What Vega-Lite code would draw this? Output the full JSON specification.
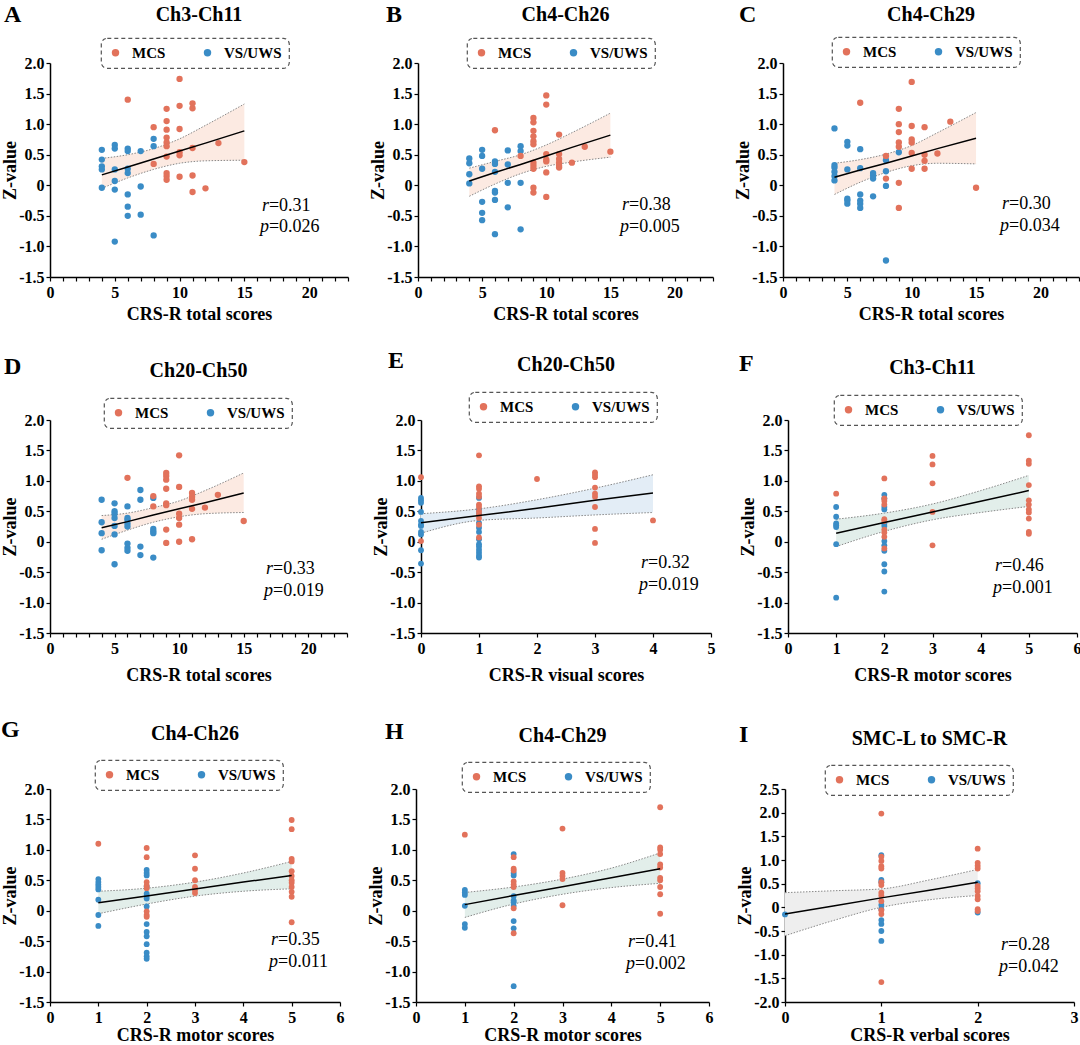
{
"$schema": "https://vega.github.io/schema/vega-lite/v6.json",
"padding": {"top": 2, "left": 0, "right": 0, "bottom": 0},
"config": {
 "view": {"stroke": null},
 "font": "Liberation Serif",
 "axis": {"domainColor":"#000","domainWidth":1.5,"tickColor":"#000","tickWidth":1.2,"tickSize":4,"labelFont":"Liberation Serif","labelFontSize":16,"labelFontWeight":"bold","labelColor":"#000","titleFont":"Liberation Serif","titleFontSize":18,"titleFontWeight":"bold","titleColor":"#000","grid":false,"labelOverlap":false,"labelFlush":false},
 "axisX": {"labelPadding":3,"titlePadding":5,"labelAngle":0},
 "axisY": {"labelPadding":2,"titleX":-31},
 "legend": {"orient":"none","direction":"horizontal","labelFont":"Liberation Serif","labelFontSize":15,"labelFontWeight":"bold","labelColor":"#000","symbolType":"circle","symbolSize":55,"symbolStrokeWidth":0,"labelOffset":9,"columnPadding":34,"padding":7,"strokeColor":"#555","strokeDash":[4,3],"strokeWidth":1.2,"cornerRadius":6},
 "title": {"font":"Liberation Serif","fontSize":20,"fontWeight":"bold","color":"#000","anchor":"middle","offset":-26},
 "text": {"font":"Liberation Serif","color":"#000"}
},
"datasets": {
 "notes": [
  {"p":"A","letter":"A","r":"=0.31","pv":"=0.026"},
  {"p":"B","letter":"B","r":"=0.38","pv":"=0.005"},
  {"p":"C","letter":"C","r":"=0.30","pv":"=0.034"},
  {"p":"D","letter":"D","r":"=0.33","pv":"=0.019"},
  {"p":"E","letter":"E","r":"=0.32","pv":"=0.019"},
  {"p":"F","letter":"F","r":"=0.46","pv":"=0.001"},
  {"p":"G","letter":"G","r":"=0.35","pv":"=0.011"},
  {"p":"H","letter":"H","r":"=0.41","pv":"=0.002"},
  {"p":"I","letter":"I","r":"=0.28","pv":"=0.042"}
 ],
 "bands": [
  {"p":"A","x":4,"lo":-0.05,"hi":0.44,"fit":0.17},{"p":"A","x":6,"lo":0.12,"hi":0.50,"fit":0.30},{"p":"A","x":8,"lo":0.26,"hi":0.60,"fit":0.43},{"p":"A","x":10,"lo":0.36,"hi":0.76,"fit":0.56},{"p":"A","x":12,"lo":0.40,"hi":0.98,"fit":0.69},{"p":"A","x":15,"lo":0.41,"hi":1.33,"fit":0.89},
  {"p":"B","x":4,"lo":-0.18,"hi":0.28,"fit":0.07},{"p":"B","x":6,"lo":0.02,"hi":0.39,"fit":0.21},{"p":"B","x":8,"lo":0.19,"hi":0.50,"fit":0.34},{"p":"B","x":10,"lo":0.31,"hi":0.66,"fit":0.48},{"p":"B","x":12,"lo":0.38,"hi":0.86,"fit":0.62},{"p":"B","x":15,"lo":0.46,"hi":1.18,"fit":0.82},
  {"p":"C","x":4,"lo":-0.15,"hi":0.36,"fit":0.13},{"p":"C","x":6,"lo":0.05,"hi":0.42,"fit":0.25},{"p":"C","x":8,"lo":0.21,"hi":0.51,"fit":0.36},{"p":"C","x":10,"lo":0.32,"hi":0.65,"fit":0.48},{"p":"C","x":12,"lo":0.36,"hi":0.86,"fit":0.60},{"p":"C","x":15,"lo":0.35,"hi":1.19,"fit":0.77},
  {"p":"D","x":4,"lo":0.04,"hi":0.43,"fit":0.23},{"p":"D","x":6,"lo":0.19,"hi":0.47,"fit":0.33},{"p":"D","x":8,"lo":0.32,"hi":0.56,"fit":0.44},{"p":"D","x":10,"lo":0.41,"hi":0.67,"fit":0.54},{"p":"D","x":12,"lo":0.46,"hi":0.84,"fit":0.64},{"p":"D","x":15,"lo":0.48,"hi":1.13,"fit":0.80},
  {"p":"E","x":0,"lo":0.14,"hi":0.46,"fit":0.31},{"p":"E","x":1,"lo":0.35,"hi":0.54,"fit":0.43},{"p":"E","x":2,"lo":0.39,"hi":0.69,"fit":0.55},{"p":"E","x":3,"lo":0.44,"hi":0.88,"fit":0.68},{"p":"E","x":4,"lo":0.48,"hi":1.10,"fit":0.80},
  {"p":"F","x":1,"lo":-0.08,"hi":0.37,"fit":0.14},{"p":"F","x":2,"lo":0.17,"hi":0.47,"fit":0.315},{"p":"F","x":3,"lo":0.36,"hi":0.62,"fit":0.49},{"p":"F","x":4,"lo":0.48,"hi":0.84,"fit":0.665},{"p":"F","x":5,"lo":0.58,"hi":1.09,"fit":0.84},
  {"p":"G","x":1,"lo":-0.05,"hi":0.32,"fit":0.13},{"p":"G","x":2,"lo":0.11,"hi":0.37,"fit":0.24},{"p":"G","x":3,"lo":0.24,"hi":0.47,"fit":0.355},{"p":"G","x":4,"lo":0.32,"hi":0.62,"fit":0.47},{"p":"G","x":5,"lo":0.36,"hi":0.81,"fit":0.58},
  {"p":"H","x":1,"lo":-0.11,"hi":0.30,"fit":0.10},{"p":"H","x":2,"lo":0.11,"hi":0.39,"fit":0.25},{"p":"H","x":3,"lo":0.27,"hi":0.52,"fit":0.395},{"p":"H","x":4,"lo":0.38,"hi":0.70,"fit":0.54},{"p":"H","x":5,"lo":0.45,"hi":0.95,"fit":0.69},
  {"p":"I","x":0,"lo":-0.60,"hi":0.31,"fit":-0.14},{"p":"I","x":0.5,"lo":-0.28,"hi":0.35,"fit":0.03},{"p":"I","x":1,"lo":0.0,"hi":0.39,"fit":0.20},{"p":"I","x":1.5,"lo":0.16,"hi":0.58,"fit":0.36},{"p":"I","x":2,"lo":0.25,"hi":0.80,"fit":0.53}
 ],
 "pts": [
  {"p":"A","g":"VS/UWS","x":4,"z":0.58},{"p":"A","g":"VS/UWS","x":4,"z":0.42},{"p":"A","g":"VS/UWS","x":4,"z":0.31},{"p":"A","g":"VS/UWS","x":4,"z":0.26},{"p":"A","g":"VS/UWS","x":4,"z":-0.04},
  {"p":"A","g":"VS/UWS","x":5,"z":0.66},{"p":"A","g":"VS/UWS","x":5,"z":0.60},{"p":"A","g":"VS/UWS","x":5,"z":0.26},{"p":"A","g":"VS/UWS","x":5,"z":0.07},{"p":"A","g":"VS/UWS","x":5,"z":-0.07},{"p":"A","g":"VS/UWS","x":5,"z":-0.92},
  {"p":"A","g":"VS/UWS","x":6,"z":0.60},{"p":"A","g":"VS/UWS","x":6,"z":0.56},{"p":"A","g":"VS/UWS","x":6,"z":0.27},{"p":"A","g":"VS/UWS","x":6,"z":0.20},{"p":"A","g":"VS/UWS","x":6,"z":-0.15},{"p":"A","g":"VS/UWS","x":6,"z":-0.35},{"p":"A","g":"VS/UWS","x":6,"z":-0.50},
  {"p":"A","g":"VS/UWS","x":7,"z":0.56},{"p":"A","g":"VS/UWS","x":7,"z":-0.02},{"p":"A","g":"VS/UWS","x":7,"z":-0.48},
  {"p":"A","g":"VS/UWS","x":8,"z":0.76},{"p":"A","g":"VS/UWS","x":8,"z":0.64},{"p":"A","g":"VS/UWS","x":8,"z":-0.82},
  {"p":"A","g":"MCS","x":6,"z":1.40},{"p":"A","g":"MCS","x":8,"z":0.95},{"p":"A","g":"MCS","x":8,"z":0.35},
  {"p":"A","g":"MCS","x":9,"z":1.25},{"p":"A","g":"MCS","x":9,"z":1.05},{"p":"A","g":"MCS","x":9,"z":0.91},{"p":"A","g":"MCS","x":9,"z":0.78},{"p":"A","g":"MCS","x":9,"z":0.70},{"p":"A","g":"MCS","x":9,"z":0.64},{"p":"A","g":"MCS","x":9,"z":0.47},{"p":"A","g":"MCS","x":9,"z":0.20},{"p":"A","g":"MCS","x":9,"z":0.15},{"p":"A","g":"MCS","x":9,"z":0.09},
  {"p":"A","g":"MCS","x":10,"z":1.74},{"p":"A","g":"MCS","x":10,"z":1.30},{"p":"A","g":"MCS","x":10,"z":0.92},{"p":"A","g":"MCS","x":10,"z":0.54},{"p":"A","g":"MCS","x":10,"z":0.49},{"p":"A","g":"MCS","x":10,"z":0.14},
  {"p":"A","g":"MCS","x":11,"z":1.34},{"p":"A","g":"MCS","x":11,"z":1.26},{"p":"A","g":"MCS","x":11,"z":0.61},{"p":"A","g":"MCS","x":11,"z":0.16},{"p":"A","g":"MCS","x":11,"z":-0.11},
  {"p":"A","g":"MCS","x":12,"z":-0.05},{"p":"A","g":"MCS","x":13,"z":0.69},{"p":"A","g":"MCS","x":15,"z":0.38},

  {"p":"B","g":"VS/UWS","x":4,"z":0.44},{"p":"B","g":"VS/UWS","x":4,"z":0.36},{"p":"B","g":"VS/UWS","x":4,"z":0.18},{"p":"B","g":"VS/UWS","x":4,"z":0.03},
  {"p":"B","g":"VS/UWS","x":5,"z":0.58},{"p":"B","g":"VS/UWS","x":5,"z":0.48},{"p":"B","g":"VS/UWS","x":5,"z":0.27},{"p":"B","g":"VS/UWS","x":5,"z":-0.27},{"p":"B","g":"VS/UWS","x":5,"z":-0.45},{"p":"B","g":"VS/UWS","x":5,"z":-0.57},
  {"p":"B","g":"VS/UWS","x":6,"z":0.39},{"p":"B","g":"VS/UWS","x":6,"z":0.35},{"p":"B","g":"VS/UWS","x":6,"z":0.22},{"p":"B","g":"VS/UWS","x":6,"z":-0.09},{"p":"B","g":"VS/UWS","x":6,"z":-0.12},{"p":"B","g":"VS/UWS","x":6,"z":-0.24},{"p":"B","g":"VS/UWS","x":6,"z":-0.80},
  {"p":"B","g":"VS/UWS","x":7,"z":0.57},{"p":"B","g":"VS/UWS","x":7,"z":0.34},{"p":"B","g":"VS/UWS","x":7,"z":0.04},{"p":"B","g":"VS/UWS","x":7,"z":-0.36},
  {"p":"B","g":"VS/UWS","x":8,"z":0.64},{"p":"B","g":"VS/UWS","x":8,"z":0.56},{"p":"B","g":"VS/UWS","x":8,"z":0.04},{"p":"B","g":"VS/UWS","x":8,"z":-0.72},
  {"p":"B","g":"MCS","x":6,"z":0.90},{"p":"B","g":"MCS","x":8,"z":0.48},
  {"p":"B","g":"MCS","x":9,"z":1.10},{"p":"B","g":"MCS","x":9,"z":1.03},{"p":"B","g":"MCS","x":9,"z":0.89},{"p":"B","g":"MCS","x":9,"z":0.80},{"p":"B","g":"MCS","x":9,"z":0.72},{"p":"B","g":"MCS","x":9,"z":0.67},{"p":"B","g":"MCS","x":9,"z":0.37},{"p":"B","g":"MCS","x":9,"z":0.32},{"p":"B","g":"MCS","x":9,"z":0.27},{"p":"B","g":"MCS","x":9,"z":-0.04},{"p":"B","g":"MCS","x":9,"z":-0.12},
  {"p":"B","g":"MCS","x":10,"z":1.47},{"p":"B","g":"MCS","x":10,"z":1.32},{"p":"B","g":"MCS","x":10,"z":0.51},{"p":"B","g":"MCS","x":10,"z":0.42},{"p":"B","g":"MCS","x":10,"z":0.39},{"p":"B","g":"MCS","x":10,"z":0.21},{"p":"B","g":"MCS","x":10,"z":-0.19},
  {"p":"B","g":"MCS","x":11,"z":0.83},{"p":"B","g":"MCS","x":11,"z":0.51},{"p":"B","g":"MCS","x":11,"z":0.43},{"p":"B","g":"MCS","x":11,"z":0.37},{"p":"B","g":"MCS","x":11,"z":0.32},{"p":"B","g":"MCS","x":11,"z":0.29},
  {"p":"B","g":"MCS","x":12,"z":0.37},{"p":"B","g":"MCS","x":13,"z":0.63},{"p":"B","g":"MCS","x":15,"z":0.55},

  {"p":"C","g":"VS/UWS","x":4,"z":0.93},{"p":"C","g":"VS/UWS","x":4,"z":0.33},{"p":"C","g":"VS/UWS","x":4,"z":0.29},{"p":"C","g":"VS/UWS","x":4,"z":0.22},{"p":"C","g":"VS/UWS","x":4,"z":0.15},{"p":"C","g":"VS/UWS","x":4,"z":0.08},
  {"p":"C","g":"VS/UWS","x":5,"z":0.71},{"p":"C","g":"VS/UWS","x":5,"z":0.65},{"p":"C","g":"VS/UWS","x":5,"z":0.26},{"p":"C","g":"VS/UWS","x":5,"z":-0.22},{"p":"C","g":"VS/UWS","x":5,"z":-0.25},{"p":"C","g":"VS/UWS","x":5,"z":-0.30},
  {"p":"C","g":"VS/UWS","x":6,"z":0.59},{"p":"C","g":"VS/UWS","x":6,"z":0.28},{"p":"C","g":"VS/UWS","x":6,"z":-0.15},{"p":"C","g":"VS/UWS","x":6,"z":-0.25},{"p":"C","g":"VS/UWS","x":6,"z":-0.30},{"p":"C","g":"VS/UWS","x":6,"z":-0.37},
  {"p":"C","g":"VS/UWS","x":7,"z":0.20},{"p":"C","g":"VS/UWS","x":7,"z":0.16},{"p":"C","g":"VS/UWS","x":7,"z":0.11},{"p":"C","g":"VS/UWS","x":7,"z":-0.18},
  {"p":"C","g":"VS/UWS","x":8,"z":0.41},{"p":"C","g":"VS/UWS","x":8,"z":0.23},{"p":"C","g":"VS/UWS","x":8,"z":-0.01},{"p":"C","g":"VS/UWS","x":8,"z":-1.23},{"p":"C","g":"VS/UWS","x":9,"z":0.54},
  {"p":"C","g":"MCS","x":6,"z":1.35},{"p":"C","g":"MCS","x":8,"z":0.48},{"p":"C","g":"MCS","x":8,"z":0.11},
  {"p":"C","g":"MCS","x":9,"z":1.25},{"p":"C","g":"MCS","x":9,"z":1.00},{"p":"C","g":"MCS","x":9,"z":0.87},{"p":"C","g":"MCS","x":9,"z":0.70},{"p":"C","g":"MCS","x":9,"z":0.63},{"p":"C","g":"MCS","x":9,"z":0.04},{"p":"C","g":"MCS","x":9,"z":-0.37},
  {"p":"C","g":"MCS","x":10,"z":1.69},{"p":"C","g":"MCS","x":10,"z":0.97},{"p":"C","g":"MCS","x":10,"z":0.75},{"p":"C","g":"MCS","x":10,"z":0.70},{"p":"C","g":"MCS","x":10,"z":0.53},{"p":"C","g":"MCS","x":10,"z":0.27},
  {"p":"C","g":"MCS","x":11,"z":0.95},{"p":"C","g":"MCS","x":11,"z":0.50},{"p":"C","g":"MCS","x":11,"z":0.40},{"p":"C","g":"MCS","x":11,"z":0.27},
  {"p":"C","g":"MCS","x":12,"z":0.52},{"p":"C","g":"MCS","x":13,"z":1.04},{"p":"C","g":"MCS","x":15,"z":-0.04},

  {"p":"D","g":"VS/UWS","x":4,"z":0.69},{"p":"D","g":"VS/UWS","x":4,"z":0.32},{"p":"D","g":"VS/UWS","x":4,"z":0.14},{"p":"D","g":"VS/UWS","x":4,"z":-0.14},
  {"p":"D","g":"VS/UWS","x":5,"z":0.63},{"p":"D","g":"VS/UWS","x":5,"z":0.50},{"p":"D","g":"VS/UWS","x":5,"z":0.46},{"p":"D","g":"VS/UWS","x":5,"z":0.39},{"p":"D","g":"VS/UWS","x":5,"z":0.26},{"p":"D","g":"VS/UWS","x":5,"z":0.12},{"p":"D","g":"VS/UWS","x":5,"z":-0.37},
  {"p":"D","g":"VS/UWS","x":6,"z":0.58},{"p":"D","g":"VS/UWS","x":6,"z":0.39},{"p":"D","g":"VS/UWS","x":6,"z":0.36},{"p":"D","g":"VS/UWS","x":6,"z":0.30},{"p":"D","g":"VS/UWS","x":6,"z":0.25},{"p":"D","g":"VS/UWS","x":6,"z":-0.03},{"p":"D","g":"VS/UWS","x":6,"z":-0.10},{"p":"D","g":"VS/UWS","x":6,"z":-0.15},
  {"p":"D","g":"VS/UWS","x":7,"z":0.85},{"p":"D","g":"VS/UWS","x":7,"z":0.69},{"p":"D","g":"VS/UWS","x":7,"z":-0.08},{"p":"D","g":"VS/UWS","x":7,"z":-0.22},
  {"p":"D","g":"VS/UWS","x":8,"z":0.72},{"p":"D","g":"VS/UWS","x":8,"z":0.21},{"p":"D","g":"VS/UWS","x":8,"z":0.17},{"p":"D","g":"VS/UWS","x":8,"z":0.14},{"p":"D","g":"VS/UWS","x":8,"z":-0.26},
  {"p":"D","g":"MCS","x":6,"z":1.05},{"p":"D","g":"MCS","x":8,"z":0.75},{"p":"D","g":"MCS","x":8,"z":0.58},
  {"p":"D","g":"MCS","x":9,"z":1.13},{"p":"D","g":"MCS","x":9,"z":1.08},{"p":"D","g":"MCS","x":9,"z":1.02},{"p":"D","g":"MCS","x":9,"z":0.87},{"p":"D","g":"MCS","x":9,"z":0.63},{"p":"D","g":"MCS","x":9,"z":0.60},{"p":"D","g":"MCS","x":9,"z":0.20},{"p":"D","g":"MCS","x":9,"z":-0.02},
  {"p":"D","g":"MCS","x":10,"z":1.42},{"p":"D","g":"MCS","x":10,"z":0.90},{"p":"D","g":"MCS","x":10,"z":0.46},{"p":"D","g":"MCS","x":10,"z":0.39},{"p":"D","g":"MCS","x":10,"z":0.28},{"p":"D","g":"MCS","x":10,"z":0.00},
  {"p":"D","g":"MCS","x":11,"z":0.80},{"p":"D","g":"MCS","x":11,"z":0.74},{"p":"D","g":"MCS","x":11,"z":0.69},{"p":"D","g":"MCS","x":11,"z":0.54},{"p":"D","g":"MCS","x":11,"z":0.04},
  {"p":"D","g":"MCS","x":12,"z":0.56},{"p":"D","g":"MCS","x":13,"z":0.77},{"p":"D","g":"MCS","x":15,"z":0.34},

  {"p":"E","g":"VS/UWS","x":0,"z":0.72},{"p":"E","g":"VS/UWS","x":0,"z":0.68},{"p":"E","g":"VS/UWS","x":0,"z":0.64},{"p":"E","g":"VS/UWS","x":0,"z":0.49},{"p":"E","g":"VS/UWS","x":0,"z":0.34},{"p":"E","g":"VS/UWS","x":0,"z":0.28},{"p":"E","g":"VS/UWS","x":0,"z":0.26},{"p":"E","g":"VS/UWS","x":0,"z":0.16},{"p":"E","g":"VS/UWS","x":0,"z":0.12},{"p":"E","g":"VS/UWS","x":0,"z":-0.14},{"p":"E","g":"VS/UWS","x":0,"z":-0.36},
  {"p":"E","g":"VS/UWS","x":1,"z":0.72},{"p":"E","g":"VS/UWS","x":1,"z":0.53},{"p":"E","g":"VS/UWS","x":1,"z":0.46},{"p":"E","g":"VS/UWS","x":1,"z":0.31},{"p":"E","g":"VS/UWS","x":1,"z":0.23},{"p":"E","g":"VS/UWS","x":1,"z":0.16},{"p":"E","g":"VS/UWS","x":1,"z":0.04},{"p":"E","g":"VS/UWS","x":1,"z":-0.04},{"p":"E","g":"VS/UWS","x":1,"z":-0.08},{"p":"E","g":"VS/UWS","x":1,"z":-0.13},{"p":"E","g":"VS/UWS","x":1,"z":-0.18},{"p":"E","g":"VS/UWS","x":1,"z":-0.23},{"p":"E","g":"VS/UWS","x":1,"z":-0.26},
  {"p":"E","g":"MCS","x":0,"z":1.06},{"p":"E","g":"MCS","x":0,"z":0.01},
  {"p":"E","g":"MCS","x":1,"z":1.42},{"p":"E","g":"MCS","x":1,"z":0.91},{"p":"E","g":"MCS","x":1,"z":0.87},{"p":"E","g":"MCS","x":1,"z":0.79},{"p":"E","g":"MCS","x":1,"z":0.74},{"p":"E","g":"MCS","x":1,"z":0.61},{"p":"E","g":"MCS","x":1,"z":0.57},{"p":"E","g":"MCS","x":1,"z":0.50},{"p":"E","g":"MCS","x":1,"z":0.45},{"p":"E","g":"MCS","x":1,"z":0.39},{"p":"E","g":"MCS","x":1,"z":0.28},{"p":"E","g":"MCS","x":1,"z":0.07},
  {"p":"E","g":"MCS","x":2,"z":1.03},
  {"p":"E","g":"MCS","x":3,"z":1.14},{"p":"E","g":"MCS","x":3,"z":1.10},{"p":"E","g":"MCS","x":3,"z":1.06},{"p":"E","g":"MCS","x":3,"z":0.89},{"p":"E","g":"MCS","x":3,"z":0.79},{"p":"E","g":"MCS","x":3,"z":0.74},{"p":"E","g":"MCS","x":3,"z":0.57},{"p":"E","g":"MCS","x":3,"z":0.21},{"p":"E","g":"MCS","x":3,"z":-0.02},
  {"p":"E","g":"MCS","x":4,"z":0.35},

  {"p":"F","g":"VS/UWS","x":1,"z":0.57},{"p":"F","g":"VS/UWS","x":1,"z":0.41},{"p":"F","g":"VS/UWS","x":1,"z":0.30},{"p":"F","g":"VS/UWS","x":1,"z":0.27},{"p":"F","g":"VS/UWS","x":1,"z":0.24},{"p":"F","g":"VS/UWS","x":1,"z":-0.04},{"p":"F","g":"VS/UWS","x":1,"z":-0.92},
  {"p":"F","g":"VS/UWS","x":2,"z":0.77},{"p":"F","g":"VS/UWS","x":2,"z":0.71},{"p":"F","g":"VS/UWS","x":2,"z":0.57},{"p":"F","g":"VS/UWS","x":2,"z":0.53},{"p":"F","g":"VS/UWS","x":2,"z":0.30},{"p":"F","g":"VS/UWS","x":2,"z":0.26},{"p":"F","g":"VS/UWS","x":2,"z":0.01},{"p":"F","g":"VS/UWS","x":2,"z":-0.06},{"p":"F","g":"VS/UWS","x":2,"z":-0.15},{"p":"F","g":"VS/UWS","x":2,"z":-0.37},{"p":"F","g":"VS/UWS","x":2,"z":-0.49},{"p":"F","g":"VS/UWS","x":2,"z":-0.82},
  {"p":"F","g":"MCS","x":1,"z":0.79},
  {"p":"F","g":"MCS","x":2,"z":1.04},{"p":"F","g":"MCS","x":2,"z":0.71},{"p":"F","g":"MCS","x":2,"z":0.67},{"p":"F","g":"MCS","x":2,"z":0.61},{"p":"F","g":"MCS","x":2,"z":0.37},{"p":"F","g":"MCS","x":2,"z":0.34},{"p":"F","g":"MCS","x":2,"z":0.20},{"p":"F","g":"MCS","x":2,"z":0.15},{"p":"F","g":"MCS","x":2,"z":0.08},{"p":"F","g":"MCS","x":2,"z":-0.11},
  {"p":"F","g":"MCS","x":3,"z":1.41},{"p":"F","g":"MCS","x":3,"z":1.27},{"p":"F","g":"MCS","x":3,"z":0.96},{"p":"F","g":"MCS","x":3,"z":0.49},{"p":"F","g":"MCS","x":3,"z":-0.06},
  {"p":"F","g":"MCS","x":5,"z":1.75},{"p":"F","g":"MCS","x":5,"z":1.33},{"p":"F","g":"MCS","x":5,"z":1.28},{"p":"F","g":"MCS","x":5,"z":0.93},{"p":"F","g":"MCS","x":5,"z":0.68},{"p":"F","g":"MCS","x":5,"z":0.61},{"p":"F","g":"MCS","x":5,"z":0.53},{"p":"F","g":"MCS","x":5,"z":0.48},{"p":"F","g":"MCS","x":5,"z":0.38},{"p":"F","g":"MCS","x":5,"z":0.16},{"p":"F","g":"MCS","x":5,"z":0.13},

  {"p":"G","g":"VS/UWS","x":1,"z":0.52},{"p":"G","g":"VS/UWS","x":1,"z":0.47},{"p":"G","g":"VS/UWS","x":1,"z":0.43},{"p":"G","g":"VS/UWS","x":1,"z":0.39},{"p":"G","g":"VS/UWS","x":1,"z":0.35},{"p":"G","g":"VS/UWS","x":1,"z":0.18},{"p":"G","g":"VS/UWS","x":1,"z":-0.07},{"p":"G","g":"VS/UWS","x":1,"z":-0.25},
  {"p":"G","g":"VS/UWS","x":2,"z":0.67},{"p":"G","g":"VS/UWS","x":2,"z":0.62},{"p":"G","g":"VS/UWS","x":2,"z":0.58},{"p":"G","g":"VS/UWS","x":2,"z":0.40},{"p":"G","g":"VS/UWS","x":2,"z":0.28},{"p":"G","g":"VS/UWS","x":2,"z":0.24},{"p":"G","g":"VS/UWS","x":2,"z":0.20},{"p":"G","g":"VS/UWS","x":2,"z":0.07},{"p":"G","g":"VS/UWS","x":2,"z":-0.22},{"p":"G","g":"VS/UWS","x":2,"z":-0.35},{"p":"G","g":"VS/UWS","x":2,"z":-0.42},{"p":"G","g":"VS/UWS","x":2,"z":-0.55},{"p":"G","g":"VS/UWS","x":2,"z":-0.69},{"p":"G","g":"VS/UWS","x":2,"z":-0.75},{"p":"G","g":"VS/UWS","x":2,"z":-0.79},
  {"p":"G","g":"MCS","x":1,"z":1.10},
  {"p":"G","g":"MCS","x":2,"z":1.03},{"p":"G","g":"MCS","x":2,"z":0.88},{"p":"G","g":"MCS","x":2,"z":0.47},{"p":"G","g":"MCS","x":2,"z":0.41},{"p":"G","g":"MCS","x":2,"z":0.37},{"p":"G","g":"MCS","x":2,"z":-0.01},{"p":"G","g":"MCS","x":2,"z":-0.07},{"p":"G","g":"MCS","x":2,"z":-0.10},
  {"p":"G","g":"MCS","x":3,"z":0.91},{"p":"G","g":"MCS","x":3,"z":0.69},{"p":"G","g":"MCS","x":3,"z":0.50},{"p":"G","g":"MCS","x":3,"z":0.39},{"p":"G","g":"MCS","x":3,"z":0.34},{"p":"G","g":"MCS","x":3,"z":0.29},
  {"p":"G","g":"MCS","x":5,"z":1.49},{"p":"G","g":"MCS","x":5,"z":1.34},{"p":"G","g":"MCS","x":5,"z":0.85},{"p":"G","g":"MCS","x":5,"z":0.81},{"p":"G","g":"MCS","x":5,"z":0.65},{"p":"G","g":"MCS","x":5,"z":0.57},{"p":"G","g":"MCS","x":5,"z":0.50},{"p":"G","g":"MCS","x":5,"z":0.46},{"p":"G","g":"MCS","x":5,"z":0.39},{"p":"G","g":"MCS","x":5,"z":0.31},{"p":"G","g":"MCS","x":5,"z":0.23},{"p":"G","g":"MCS","x":5,"z":-0.19},

  {"p":"H","g":"VS/UWS","x":1,"z":0.34},{"p":"H","g":"VS/UWS","x":1,"z":0.30},{"p":"H","g":"VS/UWS","x":1,"z":0.26},{"p":"H","g":"VS/UWS","x":1,"z":0.08},{"p":"H","g":"VS/UWS","x":1,"z":-0.22},{"p":"H","g":"VS/UWS","x":1,"z":-0.28},
  {"p":"H","g":"VS/UWS","x":2,"z":0.93},{"p":"H","g":"VS/UWS","x":2,"z":0.62},{"p":"H","g":"VS/UWS","x":2,"z":0.58},{"p":"H","g":"VS/UWS","x":2,"z":0.24},{"p":"H","g":"VS/UWS","x":2,"z":0.17},{"p":"H","g":"VS/UWS","x":2,"z":0.14},{"p":"H","g":"VS/UWS","x":2,"z":0.08},{"p":"H","g":"VS/UWS","x":2,"z":-0.17},{"p":"H","g":"VS/UWS","x":2,"z":-0.29},{"p":"H","g":"VS/UWS","x":2,"z":-1.24},
  {"p":"H","g":"MCS","x":1,"z":1.25},
  {"p":"H","g":"MCS","x":2,"z":0.88},{"p":"H","g":"MCS","x":2,"z":0.69},{"p":"H","g":"MCS","x":2,"z":0.66},{"p":"H","g":"MCS","x":2,"z":0.48},{"p":"H","g":"MCS","x":2,"z":0.43},{"p":"H","g":"MCS","x":2,"z":0.39},{"p":"H","g":"MCS","x":2,"z":0.04},{"p":"H","g":"MCS","x":2,"z":-0.37},
  {"p":"H","g":"MCS","x":3,"z":1.35},{"p":"H","g":"MCS","x":3,"z":0.62},{"p":"H","g":"MCS","x":3,"z":0.57},{"p":"H","g":"MCS","x":3,"z":0.52},{"p":"H","g":"MCS","x":3,"z":0.09},
  {"p":"H","g":"MCS","x":5,"z":1.70},{"p":"H","g":"MCS","x":5,"z":1.04},{"p":"H","g":"MCS","x":5,"z":1.00},{"p":"H","g":"MCS","x":5,"z":0.93},{"p":"H","g":"MCS","x":5,"z":0.76},{"p":"H","g":"MCS","x":5,"z":0.71},{"p":"H","g":"MCS","x":5,"z":0.54},{"p":"H","g":"MCS","x":5,"z":0.50},{"p":"H","g":"MCS","x":5,"z":0.39},{"p":"H","g":"MCS","x":5,"z":0.27},{"p":"H","g":"MCS","x":5,"z":-0.05},

  {"p":"I","g":"VS/UWS","x":0,"z":-0.15},
  {"p":"I","g":"VS/UWS","x":1,"z":1.10},{"p":"I","g":"VS/UWS","x":1,"z":0.58},{"p":"I","g":"VS/UWS","x":1,"z":0.53},{"p":"I","g":"VS/UWS","x":1,"z":0.05},{"p":"I","g":"VS/UWS","x":1,"z":-0.04},{"p":"I","g":"VS/UWS","x":1,"z":-0.27},{"p":"I","g":"VS/UWS","x":1,"z":-0.35},{"p":"I","g":"VS/UWS","x":1,"z":-0.50},{"p":"I","g":"VS/UWS","x":1,"z":-0.71},
  {"p":"I","g":"VS/UWS","x":2,"z":0.51},{"p":"I","g":"VS/UWS","x":2,"z":-0.11},
  {"p":"I","g":"MCS","x":1,"z":1.98},{"p":"I","g":"MCS","x":1,"z":1.07},{"p":"I","g":"MCS","x":1,"z":0.98},{"p":"I","g":"MCS","x":1,"z":0.87},{"p":"I","g":"MCS","x":1,"z":0.82},{"p":"I","g":"MCS","x":1,"z":0.53},{"p":"I","g":"MCS","x":1,"z":0.47},{"p":"I","g":"MCS","x":1,"z":0.31},{"p":"I","g":"MCS","x":1,"z":0.25},{"p":"I","g":"MCS","x":1,"z":0.13},{"p":"I","g":"MCS","x":1,"z":-0.06},{"p":"I","g":"MCS","x":1,"z":-0.14},{"p":"I","g":"MCS","x":1,"z":-1.58},
  {"p":"I","g":"MCS","x":2,"z":1.24},{"p":"I","g":"MCS","x":2,"z":0.94},{"p":"I","g":"MCS","x":2,"z":0.88},{"p":"I","g":"MCS","x":2,"z":0.82},{"p":"I","g":"MCS","x":2,"z":0.45},{"p":"I","g":"MCS","x":2,"z":0.40},{"p":"I","g":"MCS","x":2,"z":0.34},{"p":"I","g":"MCS","x":2,"z":0.24},{"p":"I","g":"MCS","x":2,"z":0.17},{"p":"I","g":"MCS","x":2,"z":-0.04},{"p":"I","g":"MCS","x":2,"z":-0.08}
 ]
},
"resolve": {"legend": {"color": "independent"}},
"spacing": 26,
"vconcat": [
{"hconcat": [
 {"width":298,"height":214,"title":{"text":"Ch3-Ch11","offset":-22},"layer":[
  {"data":{"name":"bands"},"transform":[{"filter":"datum.p=='A'"}],"mark":{"type":"area","color":"#FCEAE2","opacity":1,"interpolate":"monotone"},"encoding":{"x":{"field":"x","type":"quantitative","scale":{"domain":[0,23],"nice":false},"axis":{"title":"CRS-R total scores","tickCount":100,"values":[0,1,2,3,4,5,6,7,8,9,10,11,12,13,14,15,16,17,18,19,20,21,22,23],"labelExpr":"datum.value % 5 == 0 ? format(datum.value, 'd') : ''"}},"y":{"field":"lo","type":"quantitative","scale":{"domain":[-1.5,2],"nice":false},"axis":{"title":"Z-value","tickCount":100,"values":[-1.5,-1,-0.5,0,0.5,1,1.5,2],"labelExpr":"datum.value == 0 ? '0' : (datum.value < 0 ? '-' + format(-datum.value, '.1f') : format(datum.value, '.1f'))"}},"y2":{"field":"hi"}}},
  {"data":{"name":"bands"},"transform":[{"filter":"datum.p=='A'"}],"mark":{"type":"line","color":"#888","strokeWidth":1,"strokeDash":[1.5,1.5],"interpolate":"monotone"},"encoding":{"x":{"field":"x","type":"quantitative"},"y":{"field":"lo","type":"quantitative"}}},
  {"data":{"name":"bands"},"transform":[{"filter":"datum.p=='A'"}],"mark":{"type":"line","color":"#888","strokeWidth":1,"strokeDash":[1.5,1.5],"interpolate":"monotone"},"encoding":{"x":{"field":"x","type":"quantitative"},"y":{"field":"hi","type":"quantitative"}}},
  {"data":{"name":"pts"},"transform":[{"filter":"datum.p=='A'"}],"mark":{"type":"circle","size":40,"opacity":1},"encoding":{"x":{"field":"x","type":"quantitative"},"y":{"field":"z","type":"quantitative"},"color":{"field":"g","type":"nominal","scale":{"domain":["MCS","VS/UWS"],"range":["#E2725B","#3A8CC6"]},"legend":{"title":null,"legendX":51,"legendY":-25}}}},
  {"data":{"name":"bands"},"transform":[{"filter":"datum.p=='A'"}],"mark":{"type":"line","color":"#000","strokeWidth":1.5},"encoding":{"x":{"field":"x","type":"quantitative"},"y":{"field":"fit","type":"quantitative"}}},
  {"data":{"name":"notes"},"transform":[{"filter":"datum.p=='A'"}],"mark":{"type":"text","fontSize":24,"fontWeight":"bold","align":"left","baseline":"alphabetic"},"encoding":{"text":{"field":"letter"},"x":{"datum":-3.55},"y":{"datum":2.671}}},
  {"data":{"name":"notes"},"transform":[{"filter":"datum.p=='A'"}],"mark":{"type":"text","text":"r","fontStyle":"italic","fontSize":18,"align":"right","baseline":"alphabetic"},"encoding":{"x":{"datum":16.9},"y":{"datum":-0.42}}},
  {"data":{"name":"notes"},"transform":[{"filter":"datum.p=='A'"}],"mark":{"type":"text","fontSize":18,"align":"left","baseline":"alphabetic"},"encoding":{"text":{"field":"r"},"x":{"datum":16.9},"y":{"datum":-0.42}}},
  {"data":{"name":"notes"},"transform":[{"filter":"datum.p=='A'"}],"mark":{"type":"text","text":"p","fontStyle":"italic","fontSize":18,"align":"right","baseline":"alphabetic"},"encoding":{"x":{"datum":16.9},"y":{"datum":-0.764}}},
  {"data":{"name":"notes"},"transform":[{"filter":"datum.p=='A'"}],"mark":{"type":"text","fontSize":18,"align":"left","baseline":"alphabetic"},"encoding":{"text":{"field":"pv"},"x":{"datum":16.9},"y":{"datum":-0.764}}}
 ]},
 {"width":295,"height":214,"title":{"text":"Ch4-Ch26","offset":-22},"layer":[
  {"data":{"name":"bands"},"transform":[{"filter":"datum.p=='B'"}],"mark":{"type":"area","color":"#FCEAE2","opacity":1,"interpolate":"monotone"},"encoding":{"x":{"field":"x","type":"quantitative","scale":{"domain":[0,23],"nice":false},"axis":{"title":"CRS-R total scores","tickCount":100,"values":[0,1,2,3,4,5,6,7,8,9,10,11,12,13,14,15,16,17,18,19,20,21,22,23],"labelExpr":"datum.value % 5 == 0 ? format(datum.value, 'd') : ''"}},"y":{"field":"lo","type":"quantitative","scale":{"domain":[-1.5,2],"nice":false},"axis":{"title":"Z-value","tickCount":100,"values":[-1.5,-1,-0.5,0,0.5,1,1.5,2],"labelExpr":"datum.value == 0 ? '0' : (datum.value < 0 ? '-' + format(-datum.value, '.1f') : format(datum.value, '.1f'))"}},"y2":{"field":"hi"}}},
  {"data":{"name":"bands"},"transform":[{"filter":"datum.p=='B'"}],"mark":{"type":"line","color":"#888","strokeWidth":1,"strokeDash":[1.5,1.5],"interpolate":"monotone"},"encoding":{"x":{"field":"x","type":"quantitative"},"y":{"field":"lo","type":"quantitative"}}},
  {"data":{"name":"bands"},"transform":[{"filter":"datum.p=='B'"}],"mark":{"type":"line","color":"#888","strokeWidth":1,"strokeDash":[1.5,1.5],"interpolate":"monotone"},"encoding":{"x":{"field":"x","type":"quantitative"},"y":{"field":"hi","type":"quantitative"}}},
  {"data":{"name":"pts"},"transform":[{"filter":"datum.p=='B'"}],"mark":{"type":"circle","size":40,"opacity":1},"encoding":{"x":{"field":"x","type":"quantitative"},"y":{"field":"z","type":"quantitative"},"color":{"field":"g","type":"nominal","scale":{"domain":["MCS","VS/UWS"],"range":["#E2725B","#3A8CC6"]},"legend":{"title":null,"legendX":49,"legendY":-25}}}},
  {"data":{"name":"bands"},"transform":[{"filter":"datum.p=='B'"}],"mark":{"type":"line","color":"#000","strokeWidth":1.5},"encoding":{"x":{"field":"x","type":"quantitative"},"y":{"field":"fit","type":"quantitative"}}},
  {"data":{"name":"notes"},"transform":[{"filter":"datum.p=='B'"}],"mark":{"type":"text","fontSize":24,"fontWeight":"bold","align":"left","baseline":"alphabetic"},"encoding":{"text":{"field":"letter"},"x":{"datum":-2.49},"y":{"datum":2.671}}},
  {"data":{"name":"notes"},"transform":[{"filter":"datum.p=='B'"}],"mark":{"type":"text","text":"r","fontStyle":"italic","fontSize":18,"align":"right","baseline":"alphabetic"},"encoding":{"x":{"datum":16.45},"y":{"datum":-0.404}}},
  {"data":{"name":"notes"},"transform":[{"filter":"datum.p=='B'"}],"mark":{"type":"text","fontSize":18,"align":"left","baseline":"alphabetic"},"encoding":{"text":{"field":"r"},"x":{"datum":16.45},"y":{"datum":-0.404}}},
  {"data":{"name":"notes"},"transform":[{"filter":"datum.p=='B'"}],"mark":{"type":"text","text":"p","fontStyle":"italic","fontSize":18,"align":"right","baseline":"alphabetic"},"encoding":{"x":{"datum":16.45},"y":{"datum":-0.764}}},
  {"data":{"name":"notes"},"transform":[{"filter":"datum.p=='B'"}],"mark":{"type":"text","fontSize":18,"align":"left","baseline":"alphabetic"},"encoding":{"text":{"field":"pv"},"x":{"datum":16.45},"y":{"datum":-0.764}}}
 ]},
 {"width":296,"height":214,"title":{"text":"Ch4-Ch29","offset":-22},"layer":[
  {"data":{"name":"bands"},"transform":[{"filter":"datum.p=='C'"}],"mark":{"type":"area","color":"#FCEAE2","opacity":1,"interpolate":"monotone"},"encoding":{"x":{"field":"x","type":"quantitative","scale":{"domain":[0,23],"nice":false},"axis":{"title":"CRS-R total scores","tickCount":100,"values":[0,1,2,3,4,5,6,7,8,9,10,11,12,13,14,15,16,17,18,19,20,21,22,23],"labelExpr":"datum.value % 5 == 0 ? format(datum.value, 'd') : ''"}},"y":{"field":"lo","type":"quantitative","scale":{"domain":[-1.5,2],"nice":false},"axis":{"title":"Z-value","tickCount":100,"values":[-1.5,-1,-0.5,0,0.5,1,1.5,2],"labelExpr":"datum.value == 0 ? '0' : (datum.value < 0 ? '-' + format(-datum.value, '.1f') : format(datum.value, '.1f'))"}},"y2":{"field":"hi"}}},
  {"data":{"name":"bands"},"transform":[{"filter":"datum.p=='C'"}],"mark":{"type":"line","color":"#888","strokeWidth":1,"strokeDash":[1.5,1.5],"interpolate":"monotone"},"encoding":{"x":{"field":"x","type":"quantitative"},"y":{"field":"lo","type":"quantitative"}}},
  {"data":{"name":"bands"},"transform":[{"filter":"datum.p=='C'"}],"mark":{"type":"line","color":"#888","strokeWidth":1,"strokeDash":[1.5,1.5],"interpolate":"monotone"},"encoding":{"x":{"field":"x","type":"quantitative"},"y":{"field":"hi","type":"quantitative"}}},
  {"data":{"name":"pts"},"transform":[{"filter":"datum.p=='C'"}],"mark":{"type":"circle","size":40,"opacity":1},"encoding":{"x":{"field":"x","type":"quantitative"},"y":{"field":"z","type":"quantitative"},"color":{"field":"g","type":"nominal","scale":{"domain":["MCS","VS/UWS"],"range":["#E2725B","#3A8CC6"]},"legend":{"title":null,"legendX":49,"legendY":-26}}}},
  {"data":{"name":"bands"},"transform":[{"filter":"datum.p=='C'"}],"mark":{"type":"line","color":"#000","strokeWidth":1.5},"encoding":{"x":{"field":"x","type":"quantitative"},"y":{"field":"fit","type":"quantitative"}}},
  {"data":{"name":"notes"},"transform":[{"filter":"datum.p=='C'"}],"mark":{"type":"text","fontSize":24,"fontWeight":"bold","align":"left","baseline":"alphabetic"},"encoding":{"text":{"field":"letter"},"x":{"datum":-3.42},"y":{"datum":2.671}}},
  {"data":{"name":"notes"},"transform":[{"filter":"datum.p=='C'"}],"mark":{"type":"text","text":"r","fontStyle":"italic","fontSize":18,"align":"right","baseline":"alphabetic"},"encoding":{"x":{"datum":17.56},"y":{"datum":-0.388}}},
  {"data":{"name":"notes"},"transform":[{"filter":"datum.p=='C'"}],"mark":{"type":"text","fontSize":18,"align":"left","baseline":"alphabetic"},"encoding":{"text":{"field":"r"},"x":{"datum":17.56},"y":{"datum":-0.388}}},
  {"data":{"name":"notes"},"transform":[{"filter":"datum.p=='C'"}],"mark":{"type":"text","text":"p","fontStyle":"italic","fontSize":18,"align":"right","baseline":"alphabetic"},"encoding":{"x":{"datum":17.56},"y":{"datum":-0.748}}},
  {"data":{"name":"notes"},"transform":[{"filter":"datum.p=='C'"}],"mark":{"type":"text","fontSize":18,"align":"left","baseline":"alphabetic"},"encoding":{"text":{"field":"pv"},"x":{"datum":17.56},"y":{"datum":-0.748}}}
 ]}
], "spacing": 20, "resolve": {"legend": {"color": "independent"}}},
{"vconcat": [
{"hconcat": [
 {"width":297,"height":213,"title":{"text":"Ch20-Ch50"},"layer":[
  {"data":{"name":"bands"},"transform":[{"filter":"datum.p=='D'"}],"mark":{"type":"area","color":"#FCEAE2","opacity":1,"interpolate":"monotone"},"encoding":{"x":{"field":"x","type":"quantitative","scale":{"domain":[0,23],"nice":false},"axis":{"title":"CRS-R total scores","titlePadding":10,"tickCount":100,"values":[0,1,2,3,4,5,6,7,8,9,10,11,12,13,14,15,16,17,18,19,20,21,22,23],"labelExpr":"datum.value % 5 == 0 ? format(datum.value, 'd') : ''"}},"y":{"field":"lo","type":"quantitative","scale":{"domain":[-1.5,2],"nice":false},"axis":{"title":"Z-value","tickCount":100,"values":[-1.5,-1,-0.5,0,0.5,1,1.5,2],"labelExpr":"datum.value == 0 ? '0' : (datum.value < 0 ? '-' + format(-datum.value, '.1f') : format(datum.value, '.1f'))"}},"y2":{"field":"hi"}}},
  {"data":{"name":"bands"},"transform":[{"filter":"datum.p=='D'"}],"mark":{"type":"line","color":"#888","strokeWidth":1,"strokeDash":[1.5,1.5],"interpolate":"monotone"},"encoding":{"x":{"field":"x","type":"quantitative"},"y":{"field":"lo","type":"quantitative"}}},
  {"data":{"name":"bands"},"transform":[{"filter":"datum.p=='D'"}],"mark":{"type":"line","color":"#888","strokeWidth":1,"strokeDash":[1.5,1.5],"interpolate":"monotone"},"encoding":{"x":{"field":"x","type":"quantitative"},"y":{"field":"hi","type":"quantitative"}}},
  {"data":{"name":"pts"},"transform":[{"filter":"datum.p=='D'"}],"mark":{"type":"circle","size":40,"opacity":1},"encoding":{"x":{"field":"x","type":"quantitative"},"y":{"field":"z","type":"quantitative"},"color":{"field":"g","type":"nominal","scale":{"domain":["MCS","VS/UWS"],"range":["#E2725B","#3A8CC6"]},"legend":{"title":null,"legendX":54,"legendY":-22}}}},
  {"data":{"name":"bands"},"transform":[{"filter":"datum.p=='D'"}],"mark":{"type":"line","color":"#000","strokeWidth":1.5},"encoding":{"x":{"field":"x","type":"quantitative"},"y":{"field":"fit","type":"quantitative"}}},
  {"data":{"name":"notes"},"transform":[{"filter":"datum.p=='D'"}],"mark":{"type":"text","fontSize":24,"fontWeight":"bold","align":"left","baseline":"alphabetic"},"encoding":{"text":{"field":"letter"},"x":{"datum":-3.56},"y":{"datum":2.756}}},
  {"data":{"name":"notes"},"transform":[{"filter":"datum.p=='D'"}],"mark":{"type":"text","text":"r","fontStyle":"italic","fontSize":18,"align":"right","baseline":"alphabetic"},"encoding":{"x":{"datum":17.27},"y":{"datum":-0.53}}},
  {"data":{"name":"notes"},"transform":[{"filter":"datum.p=='D'"}],"mark":{"type":"text","fontSize":18,"align":"left","baseline":"alphabetic"},"encoding":{"text":{"field":"r"},"x":{"datum":17.27},"y":{"datum":-0.53}}},
  {"data":{"name":"notes"},"transform":[{"filter":"datum.p=='D'"}],"mark":{"type":"text","text":"p","fontStyle":"italic","fontSize":18,"align":"right","baseline":"alphabetic"},"encoding":{"x":{"datum":17.27},"y":{"datum":-0.892}}},
  {"data":{"name":"notes"},"transform":[{"filter":"datum.p=='D'"}],"mark":{"type":"text","fontSize":18,"align":"left","baseline":"alphabetic"},"encoding":{"text":{"field":"pv"},"x":{"datum":17.27},"y":{"datum":-0.892}}}
 ]},
 {"width":290,"height":213,"title":{"text":"Ch20-Ch50"},"layer":[
  {"data":{"name":"bands"},"transform":[{"filter":"datum.p=='E'"}],"mark":{"type":"area","color":"#E3EDF6","opacity":1,"interpolate":"monotone"},"encoding":{"x":{"field":"x","type":"quantitative","scale":{"domain":[0,5],"nice":false},"axis":{"title":"CRS-R visual scores","titlePadding":10,"tickCount":100,"values":[0,1,2,3,4,5],"format":"d"}},"y":{"field":"lo","type":"quantitative","scale":{"domain":[-1.5,2],"nice":false},"axis":{"title":"Z-value","tickCount":100,"values":[-1.5,-1,-0.5,0,0.5,1,1.5,2],"labelExpr":"datum.value == 0 ? '0' : (datum.value < 0 ? '-' + format(-datum.value, '.1f') : format(datum.value, '.1f'))"}},"y2":{"field":"hi"}}},
  {"data":{"name":"bands"},"transform":[{"filter":"datum.p=='E'"}],"mark":{"type":"line","color":"#888","strokeWidth":1,"strokeDash":[1.5,1.5],"interpolate":"monotone"},"encoding":{"x":{"field":"x","type":"quantitative"},"y":{"field":"lo","type":"quantitative"}}},
  {"data":{"name":"bands"},"transform":[{"filter":"datum.p=='E'"}],"mark":{"type":"line","color":"#888","strokeWidth":1,"strokeDash":[1.5,1.5],"interpolate":"monotone"},"encoding":{"x":{"field":"x","type":"quantitative"},"y":{"field":"hi","type":"quantitative"}}},
  {"data":{"name":"pts"},"transform":[{"filter":"datum.p=='E'"}],"mark":{"type":"circle","size":34,"opacity":1},"encoding":{"x":{"field":"x","type":"quantitative"},"y":{"field":"z","type":"quantitative"},"color":{"field":"g","type":"nominal","scale":{"domain":["MCS","VS/UWS"],"range":["#E2725B","#3A8CC6"]},"legend":{"title":null,"legendX":48,"legendY":-28}}}},
  {"data":{"name":"bands"},"transform":[{"filter":"datum.p=='E'"}],"mark":{"type":"line","color":"#000","strokeWidth":1.5},"encoding":{"x":{"field":"x","type":"quantitative"},"y":{"field":"fit","type":"quantitative"}}},
  {"data":{"name":"notes"},"transform":[{"filter":"datum.p=='E'"}],"mark":{"type":"text","fontSize":24,"fontWeight":"bold","align":"left","baseline":"alphabetic"},"encoding":{"text":{"field":"letter"},"x":{"datum":-0.569},"y":{"datum":2.854}}},
  {"data":{"name":"notes"},"transform":[{"filter":"datum.p=='E'"}],"mark":{"type":"text","text":"r","fontStyle":"italic","fontSize":18,"align":"right","baseline":"alphabetic"},"encoding":{"x":{"datum":3.914},"y":{"datum":-0.432}}},
  {"data":{"name":"notes"},"transform":[{"filter":"datum.p=='E'"}],"mark":{"type":"text","fontSize":18,"align":"left","baseline":"alphabetic"},"encoding":{"text":{"field":"r"},"x":{"datum":3.914},"y":{"datum":-0.432}}},
  {"data":{"name":"notes"},"transform":[{"filter":"datum.p=='E'"}],"mark":{"type":"text","text":"p","fontStyle":"italic","fontSize":18,"align":"right","baseline":"alphabetic"},"encoding":{"x":{"datum":3.914},"y":{"datum":-0.793}}},
  {"data":{"name":"notes"},"transform":[{"filter":"datum.p=='E'"}],"mark":{"type":"text","fontSize":18,"align":"left","baseline":"alphabetic"},"encoding":{"text":{"field":"pv"},"x":{"datum":3.914},"y":{"datum":-0.793}}}
 ]},
 {"width":289,"height":213,"title":{"text":"Ch3-Ch11"},"layer":[
  {"data":{"name":"bands"},"transform":[{"filter":"datum.p=='F'"}],"mark":{"type":"area","color":"#E2EEEA","opacity":1,"interpolate":"monotone"},"encoding":{"x":{"field":"x","type":"quantitative","scale":{"domain":[0,6],"nice":false},"axis":{"title":"CRS-R motor scores","titlePadding":10,"tickCount":100,"values":[0,1,2,3,4,5,6],"format":"d"}},"y":{"field":"lo","type":"quantitative","scale":{"domain":[-1.5,2],"nice":false},"axis":{"title":"Z-value","tickCount":100,"values":[-1.5,-1,-0.5,0,0.5,1,1.5,2],"labelExpr":"datum.value == 0 ? '0' : (datum.value < 0 ? '-' + format(-datum.value, '.1f') : format(datum.value, '.1f'))"}},"y2":{"field":"hi"}}},
  {"data":{"name":"bands"},"transform":[{"filter":"datum.p=='F'"}],"mark":{"type":"line","color":"#888","strokeWidth":1,"strokeDash":[1.5,1.5],"interpolate":"monotone"},"encoding":{"x":{"field":"x","type":"quantitative"},"y":{"field":"lo","type":"quantitative"}}},
  {"data":{"name":"bands"},"transform":[{"filter":"datum.p=='F'"}],"mark":{"type":"line","color":"#888","strokeWidth":1,"strokeDash":[1.5,1.5],"interpolate":"monotone"},"encoding":{"x":{"field":"x","type":"quantitative"},"y":{"field":"hi","type":"quantitative"}}},
  {"data":{"name":"pts"},"transform":[{"filter":"datum.p=='F'"}],"mark":{"type":"circle","size":34,"opacity":1},"encoding":{"x":{"field":"x","type":"quantitative"},"y":{"field":"z","type":"quantitative"},"color":{"field":"g","type":"nominal","scale":{"domain":["MCS","VS/UWS"],"range":["#E2725B","#3A8CC6"]},"legend":{"title":null,"legendX":46,"legendY":-25}}}},
  {"data":{"name":"bands"},"transform":[{"filter":"datum.p=='F'"}],"mark":{"type":"line","color":"#000","strokeWidth":1.5},"encoding":{"x":{"field":"x","type":"quantitative"},"y":{"field":"fit","type":"quantitative"}}},
  {"data":{"name":"notes"},"transform":[{"filter":"datum.p=='F'"}],"mark":{"type":"text","fontSize":24,"fontWeight":"bold","align":"left","baseline":"alphabetic"},"encoding":{"text":{"field":"letter"},"x":{"datum":-1.017},"y":{"datum":2.805}}},
  {"data":{"name":"notes"},"transform":[{"filter":"datum.p=='F'"}],"mark":{"type":"text","text":"r","fontStyle":"italic","fontSize":18,"align":"right","baseline":"alphabetic"},"encoding":{"x":{"datum":4.443},"y":{"datum":-0.481}}},
  {"data":{"name":"notes"},"transform":[{"filter":"datum.p=='F'"}],"mark":{"type":"text","fontSize":18,"align":"left","baseline":"alphabetic"},"encoding":{"text":{"field":"r"},"x":{"datum":4.443},"y":{"datum":-0.481}}},
  {"data":{"name":"notes"},"transform":[{"filter":"datum.p=='F'"}],"mark":{"type":"text","text":"p","fontStyle":"italic","fontSize":18,"align":"right","baseline":"alphabetic"},"encoding":{"x":{"datum":4.443},"y":{"datum":-0.843}}},
  {"data":{"name":"notes"},"transform":[{"filter":"datum.p=='F'"}],"mark":{"type":"text","fontSize":18,"align":"left","baseline":"alphabetic"},"encoding":{"text":{"field":"pv"},"x":{"datum":4.443},"y":{"datum":-0.843}}}
 ]}
], "spacing": 24, "resolve": {"legend": {"color": "independent"}}},
{"hconcat": [
 {"width":290,"height":213,"title":{"text":"Ch4-Ch26"},"layer":[
  {"data":{"name":"bands"},"transform":[{"filter":"datum.p=='G'"}],"mark":{"type":"area","color":"#E2EEEA","opacity":1,"interpolate":"monotone"},"encoding":{"x":{"field":"x","type":"quantitative","scale":{"domain":[0,6],"nice":false},"axis":{"title":"CRS-R motor scores","titlePadding":1,"tickCount":100,"values":[0,1,2,3,4,5,6],"format":"d"}},"y":{"field":"lo","type":"quantitative","scale":{"domain":[-1.5,2],"nice":false},"axis":{"title":"Z-value","tickCount":100,"values":[-1.5,-1,-0.5,0,0.5,1,1.5,2],"labelExpr":"datum.value == 0 ? '0' : (datum.value < 0 ? '-' + format(-datum.value, '.1f') : format(datum.value, '.1f'))"}},"y2":{"field":"hi"}}},
  {"data":{"name":"bands"},"transform":[{"filter":"datum.p=='G'"}],"mark":{"type":"line","color":"#888","strokeWidth":1,"strokeDash":[1.5,1.5],"interpolate":"monotone"},"encoding":{"x":{"field":"x","type":"quantitative"},"y":{"field":"lo","type":"quantitative"}}},
  {"data":{"name":"bands"},"transform":[{"filter":"datum.p=='G'"}],"mark":{"type":"line","color":"#888","strokeWidth":1,"strokeDash":[1.5,1.5],"interpolate":"monotone"},"encoding":{"x":{"field":"x","type":"quantitative"},"y":{"field":"hi","type":"quantitative"}}},
  {"data":{"name":"pts"},"transform":[{"filter":"datum.p=='G'"}],"mark":{"type":"circle","size":34,"opacity":1},"encoding":{"x":{"field":"x","type":"quantitative"},"y":{"field":"z","type":"quantitative"},"color":{"field":"g","type":"nominal","scale":{"domain":["MCS","VS/UWS"],"range":["#E2725B","#3A8CC6"]},"legend":{"title":null,"legendX":45,"legendY":-29}}}},
  {"data":{"name":"bands"},"transform":[{"filter":"datum.p=='G'"}],"mark":{"type":"line","color":"#000","strokeWidth":1.5},"encoding":{"x":{"field":"x","type":"quantitative"},"y":{"field":"fit","type":"quantitative"}}},
  {"data":{"name":"notes"},"transform":[{"filter":"datum.p=='G'"}],"mark":{"type":"text","fontSize":24,"fontWeight":"bold","align":"left","baseline":"alphabetic"},"encoding":{"text":{"field":"letter"},"x":{"datum":-1.014},"y":{"datum":2.854}}},
  {"data":{"name":"notes"},"transform":[{"filter":"datum.p=='G'"}],"mark":{"type":"text","text":"r","fontStyle":"italic","fontSize":18,"align":"right","baseline":"alphabetic"},"encoding":{"x":{"datum":4.717},"y":{"datum":-0.563}}},
  {"data":{"name":"notes"},"transform":[{"filter":"datum.p=='G'"}],"mark":{"type":"text","fontSize":18,"align":"left","baseline":"alphabetic"},"encoding":{"text":{"field":"r"},"x":{"datum":4.717},"y":{"datum":-0.563}}},
  {"data":{"name":"notes"},"transform":[{"filter":"datum.p=='G'"}],"mark":{"type":"text","text":"p","fontStyle":"italic","fontSize":18,"align":"right","baseline":"alphabetic"},"encoding":{"x":{"datum":4.717},"y":{"datum":-0.925}}},
  {"data":{"name":"notes"},"transform":[{"filter":"datum.p=='G'"}],"mark":{"type":"text","fontSize":18,"align":"left","baseline":"alphabetic"},"encoding":{"text":{"field":"pv"},"x":{"datum":4.717},"y":{"datum":-0.925}}}
 ]},
 {"width":293,"height":213,"title":{"text":"Ch4-Ch29"},"layer":[
  {"data":{"name":"bands"},"transform":[{"filter":"datum.p=='H'"}],"mark":{"type":"area","color":"#E2EEEA","opacity":1,"interpolate":"monotone"},"encoding":{"x":{"field":"x","type":"quantitative","scale":{"domain":[0,6],"nice":false},"axis":{"title":"CRS-R motor scores","titlePadding":1,"tickCount":100,"values":[0,1,2,3,4,5,6],"format":"d"}},"y":{"field":"lo","type":"quantitative","scale":{"domain":[-1.5,2],"nice":false},"axis":{"title":"Z-value","tickCount":100,"values":[-1.5,-1,-0.5,0,0.5,1,1.5,2],"labelExpr":"datum.value == 0 ? '0' : (datum.value < 0 ? '-' + format(-datum.value, '.1f') : format(datum.value, '.1f'))"}},"y2":{"field":"hi"}}},
  {"data":{"name":"bands"},"transform":[{"filter":"datum.p=='H'"}],"mark":{"type":"line","color":"#888","strokeWidth":1,"strokeDash":[1.5,1.5],"interpolate":"monotone"},"encoding":{"x":{"field":"x","type":"quantitative"},"y":{"field":"lo","type":"quantitative"}}},
  {"data":{"name":"bands"},"transform":[{"filter":"datum.p=='H'"}],"mark":{"type":"line","color":"#888","strokeWidth":1,"strokeDash":[1.5,1.5],"interpolate":"monotone"},"encoding":{"x":{"field":"x","type":"quantitative"},"y":{"field":"hi","type":"quantitative"}}},
  {"data":{"name":"pts"},"transform":[{"filter":"datum.p=='H'"}],"mark":{"type":"circle","size":34,"opacity":1},"encoding":{"x":{"field":"x","type":"quantitative"},"y":{"field":"z","type":"quantitative"},"color":{"field":"g","type":"nominal","scale":{"domain":["MCS","VS/UWS"],"range":["#E2725B","#3A8CC6"]},"legend":{"title":null,"legendX":46,"legendY":-27}}}},
  {"data":{"name":"bands"},"transform":[{"filter":"datum.p=='H'"}],"mark":{"type":"line","color":"#000","strokeWidth":1.5},"encoding":{"x":{"field":"x","type":"quantitative"},"y":{"field":"fit","type":"quantitative"}}},
  {"data":{"name":"notes"},"transform":[{"filter":"datum.p=='H'"}],"mark":{"type":"text","fontSize":24,"fontWeight":"bold","align":"left","baseline":"alphabetic"},"encoding":{"text":{"field":"letter"},"x":{"datum":-0.635},"y":{"datum":2.822}}},
  {"data":{"name":"notes"},"transform":[{"filter":"datum.p=='H'"}],"mark":{"type":"text","text":"r","fontStyle":"italic","fontSize":18,"align":"right","baseline":"alphabetic"},"encoding":{"x":{"datum":4.485},"y":{"datum":-0.596}}},
  {"data":{"name":"notes"},"transform":[{"filter":"datum.p=='H'"}],"mark":{"type":"text","fontSize":18,"align":"left","baseline":"alphabetic"},"encoding":{"text":{"field":"r"},"x":{"datum":4.485},"y":{"datum":-0.596}}},
  {"data":{"name":"notes"},"transform":[{"filter":"datum.p=='H'"}],"mark":{"type":"text","text":"p","fontStyle":"italic","fontSize":18,"align":"right","baseline":"alphabetic"},"encoding":{"x":{"datum":4.485},"y":{"datum":-0.958}}},
  {"data":{"name":"notes"},"transform":[{"filter":"datum.p=='H'"}],"mark":{"type":"text","fontSize":18,"align":"left","baseline":"alphabetic"},"encoding":{"text":{"field":"pv"},"x":{"datum":4.485},"y":{"datum":-0.958}}}
 ]},
 {"width":289,"height":213,"title":{"text":"SMC-L to SMC-R"},"layer":[
  {"data":{"name":"bands"},"transform":[{"filter":"datum.p=='I'"}],"mark":{"type":"area","color":"#EEEEEE","opacity":1,"interpolate":"monotone"},"encoding":{"x":{"field":"x","type":"quantitative","scale":{"domain":[0,3],"nice":false},"axis":{"title":"CRS-R verbal scores","titlePadding":1,"tickCount":100,"values":[0,1,2,3],"format":"d"}},"y":{"field":"lo","type":"quantitative","scale":{"domain":[-2,2.5],"nice":false},"axis":{"title":"Z-value","tickCount":100,"values":[-2,-1.5,-1,-0.5,0,0.5,1,1.5,2,2.5],"labelExpr":"datum.value == 0 ? '0' : (datum.value < 0 ? '-' + format(-datum.value, '.1f') : format(datum.value, '.1f'))"}},"y2":{"field":"hi"}}},
  {"data":{"name":"bands"},"transform":[{"filter":"datum.p=='I'"}],"mark":{"type":"line","color":"#888","strokeWidth":1,"strokeDash":[1.5,1.5],"interpolate":"monotone"},"encoding":{"x":{"field":"x","type":"quantitative"},"y":{"field":"lo","type":"quantitative"}}},
  {"data":{"name":"bands"},"transform":[{"filter":"datum.p=='I'"}],"mark":{"type":"line","color":"#888","strokeWidth":1,"strokeDash":[1.5,1.5],"interpolate":"monotone"},"encoding":{"x":{"field":"x","type":"quantitative"},"y":{"field":"hi","type":"quantitative"}}},
  {"data":{"name":"pts"},"transform":[{"filter":"datum.p=='I'"}],"mark":{"type":"circle","size":34,"opacity":1},"encoding":{"x":{"field":"x","type":"quantitative"},"y":{"field":"z","type":"quantitative"},"color":{"field":"g","type":"nominal","scale":{"domain":["MCS","VS/UWS"],"range":["#E2725B","#3A8CC6"]},"legend":{"title":null,"legendX":40,"legendY":-24}}}},
  {"data":{"name":"bands"},"transform":[{"filter":"datum.p=='I'"}],"mark":{"type":"line","color":"#000","strokeWidth":1.5},"encoding":{"x":{"field":"x","type":"quantitative"},"y":{"field":"fit","type":"quantitative"}}},
  {"data":{"name":"notes"},"transform":[{"filter":"datum.p=='I'"}],"mark":{"type":"text","fontSize":24,"fontWeight":"bold","align":"left","baseline":"alphabetic"},"encoding":{"text":{"field":"letter"},"x":{"datum":-0.478},"y":{"datum":3.493}}},
  {"data":{"name":"notes"},"transform":[{"filter":"datum.p=='I'"}],"mark":{"type":"text","text":"r","fontStyle":"italic","fontSize":18,"align":"right","baseline":"alphabetic"},"encoding":{"x":{"datum":2.315},"y":{"datum":-0.902}}},
  {"data":{"name":"notes"},"transform":[{"filter":"datum.p=='I'"}],"mark":{"type":"text","fontSize":18,"align":"left","baseline":"alphabetic"},"encoding":{"text":{"field":"r"},"x":{"datum":2.315},"y":{"datum":-0.902}}},
  {"data":{"name":"notes"},"transform":[{"filter":"datum.p=='I'"}],"mark":{"type":"text","text":"p","fontStyle":"italic","fontSize":18,"align":"right","baseline":"alphabetic"},"encoding":{"x":{"datum":2.315},"y":{"datum":-1.366}}},
  {"data":{"name":"notes"},"transform":[{"filter":"datum.p=='I'"}],"mark":{"type":"text","fontSize":18,"align":"left","baseline":"alphabetic"},"encoding":{"text":{"field":"pv"},"x":{"datum":2.315},"y":{"datum":-1.366}}}
 ]}
], "spacing": 23, "resolve": {"legend": {"color": "independent"}}}
], "spacing": 34, "resolve": {"legend": {"color": "independent"}}}
]
}
